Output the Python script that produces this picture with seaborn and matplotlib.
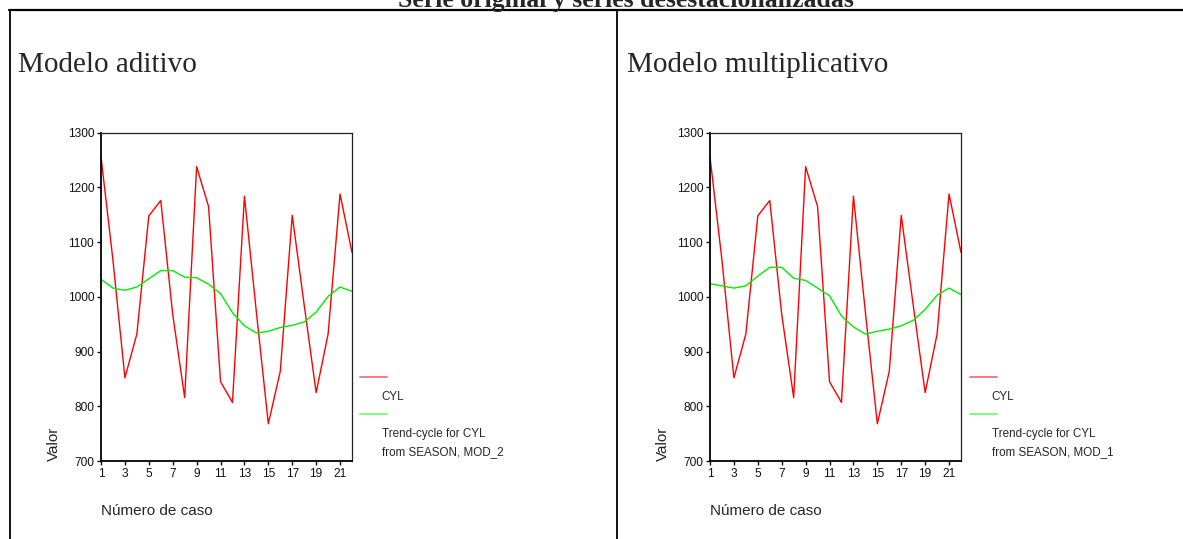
import numpy as np
import seaborn as sns
import matplotlib.pyplot as plt
from matplotlib.lines import Line2D

# Datos (serie CYL y tendencias)
caso = list(range(1, 23))
cyl = [1256, 1067, 852, 932, 1148, 1176, 968, 816, 1238, 1165, 845,
       807, 1184, 972, 768, 864, 1149, 985, 825, 932, 1188, 1081]
tendencia_aditivo = [1032, 1016, 1012, 1018, 1033, 1048, 1048, 1036, 1035, 1023, 1006,
                     971, 947, 934, 937, 944, 948, 954, 972, 1001, 1018, 1010]
tendencia_multiplicativo = [1024, 1020, 1016, 1020, 1038, 1054, 1054, 1034, 1030, 1016, 1002,
                            965, 945, 932, 937, 941, 947, 957, 977, 1003, 1016, 1004]

titulo = "Serie original y series desestacionalizadas"
paneles = ["Modelo aditivo", "Modelo multiplicativo"]
modelos = ["MOD_2", "MOD_1"]
yticks = [700, 800, 900, 1000, 1100, 1200, 1300]
xticks = list(range(1, 22, 2))

sns.set_theme(style="white")
plt.rcParams['font.family'] = ['Liberation Sans', 'DejaVu Sans']

W, H = 1183, 539
fig = plt.figure(figsize=(W / 100, H / 100), dpi=100)


def px(x, y):
    """Convierte pixeles (desde arriba a la izquierda) a fracción de figura."""
    return x / W, 1 - y / H


def dibujar_panel(ax_left, tendencia, nombre, modelo, x0):
    ax = fig.add_axes([ax_left / W, 1 - 461 / H, 251 / W, 328.3 / H])
    sns.lineplot(x=caso, y=cyl, ax=ax, color="#ff0000", linewidth=1.0)
    sns.lineplot(x=caso, y=tendencia, ax=ax, color="#00ee00", linewidth=1.0)
    ax.set_xlim(1, 22)
    ax.set_ylim(700, 1300)
    ax.set_xticks(xticks)
    ax.set_yticks(yticks)
    ax.tick_params(direction="out", length=3, width=1, pad=2, labelsize=8.6,
                   colors="#111111", bottom=True, left=True)
    for lado in ["left", "bottom"]:
        ax.spines[lado].set_linewidth(1.3)
        ax.spines[lado].set_color("black")
    for lado in ["top", "right"]:
        ax.spines[lado].set_linewidth(0.9)
        ax.spines[lado].set_color("#222222")
    ax.set_ylabel("Valor", loc="bottom", fontsize=11, labelpad=5)
    ax.set_xlabel("Número de caso", loc="left", fontsize=11, labelpad=17)

    # leyenda con la muestra de línea encima del texto
    rojo = Line2D([], [], color="#ff7070", linewidth=1.3)
    verde = Line2D([], [], color="#70ff70", linewidth=1.3)
    vacio = Line2D([], [], color="none")
    leg = ax.legend(handles=[rojo, vacio, verde, vacio],
                    labels=["", "CYL", "", "Trend-cycle for CYL\nfrom SEASON, " + modelo],
                    loc="upper left", bbox_to_anchor=px(x0, 372),
                    bbox_transform=fig.transFigure, frameon=False, fontsize=8.4,
                    handlelength=2.3, handletextpad=-0.43, labelspacing=0.58,
                    borderpad=0, borderaxespad=0)
    for t in leg.get_texts():
        t.set_linespacing(1.6)

    fig.text(*px(ax_left - 83, 72), nombre, fontsize=21, family="Liberation Serif",
             va="baseline", ha="left")
    return ax


dibujar_panel(101, tendencia_aditivo, paneles[0], modelos[0], 360)
dibujar_panel(710, tendencia_multiplicativo, paneles[1], modelos[1], 970)

# título cortado arriba (como en el original) y marco
fig.text(*px(626, 7), titulo, fontsize=18.5, fontweight="bold",
         family="Liberation Serif", ha="center", va="baseline")
fig.add_artist(Line2D([9 / W, 1], [1 - 10 / H, 1 - 10 / H], color="black", linewidth=1.6))
fig.add_artist(Line2D([9.5 / W, 9.5 / W], [1 - 10 / H, 0], color="black", linewidth=1.3))
fig.add_artist(Line2D([617 / W, 617 / W], [1 - 10 / H, 0], color="black", linewidth=1.3))

fig.savefig("out.png", dpi=100)
